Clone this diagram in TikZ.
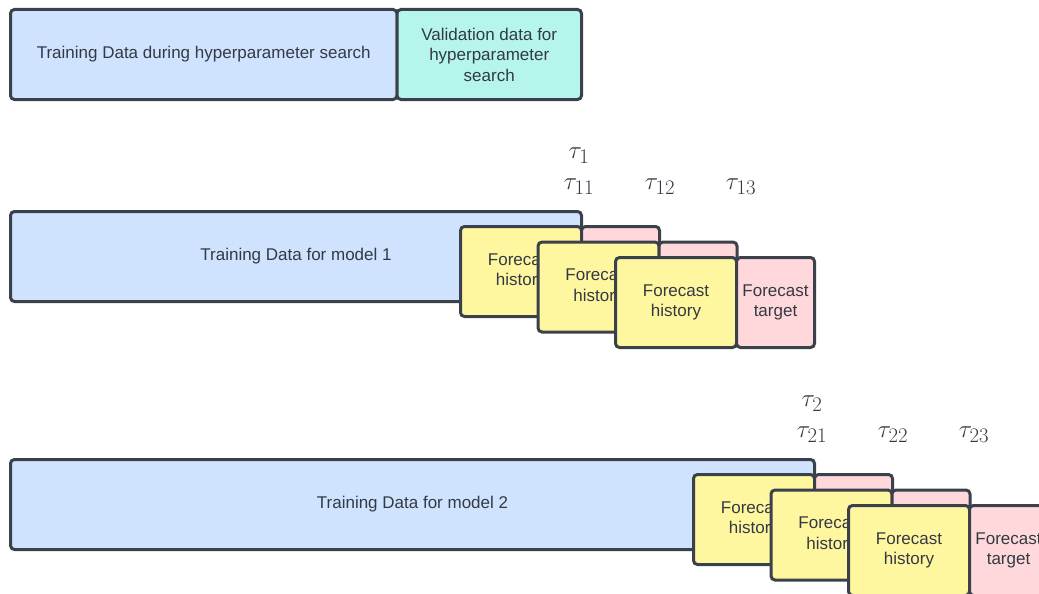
\documentclass[tikz,border=0pt]{standalone}
\usepackage{fontspec}
\setmainfont{Liberation Sans}
\usepackage{amsmath}
\usetikzlibrary{calc,positioning}
\definecolor{edge}{HTML}{3A414A}
\definecolor{txt}{HTML}{333A44}
\definecolor{trainfill}{HTML}{CFE3FF}
\definecolor{valfill}{HTML}{B5F5EB}
\definecolor{histfill}{HTML}{FFF6A0}
\definecolor{tgtfill}{HTML}{FFD8DB}
\begin{document}
\begin{tikzpicture}[x=1pt,y=-1pt,
  box/.style={draw=edge,line width=3pt,rounded corners=4pt,anchor=north west,
    inner sep=0pt,outer sep=0pt,minimum height=90pt,align=center,text=txt,
    font=\fontsize{17}{20.5}\selectfont},
  trainbox/.style={box,fill=trainfill},
  valbox/.style={box,fill=valfill,minimum width=184.5pt},
  histbox/.style={box,fill=histfill,minimum width=121pt},
  tgtbox/.style={box,fill=tgtfill,minimum width=78pt},
  tau/.style={text=txt,inner sep=0pt,font=\fontsize{29}{34}\selectfont}]
\useasboundingbox (0,0) rectangle (1039,594);
\clip (0,0) rectangle (1039,594);

% hyperparameter search split
\node[trainbox,minimum width=386.5pt] (search) at (10.5,9.5) {Training Data during hyperparameter search};
\node[valbox] (val) at (search.north east) {Validation data for\\hyperparameter\\search};

% one row per model
\foreach \r/\dx/\dy/\w in {1/0/0/571pt,2/233/248/804pt} {
  \node[trainbox,minimum width=\w] (train\r) at (10.5,211.5+\dy) {Training Data for model \r};
  \foreach \j in {1,2,3} {
    \node[histbox] (hist\r\j) at (460.5+\dx+77.5*\j-77.5,226.5+\dy+15.5*\j-15.5) {Forecast\\history};
    \node[tgtbox] (tgt\r\j) at (hist\r\j.north east) {Forecast\\target};
    \node[tau] (tau\r\j) at (579+\dx+81*\j-81,187+\dy) {$\tau_{\r\j}$};
  }
  \node[tau] (tau\r) at (579+\dx,156+\dy) {$\tau_{\r}$};
}
\end{tikzpicture}
\end{document}
